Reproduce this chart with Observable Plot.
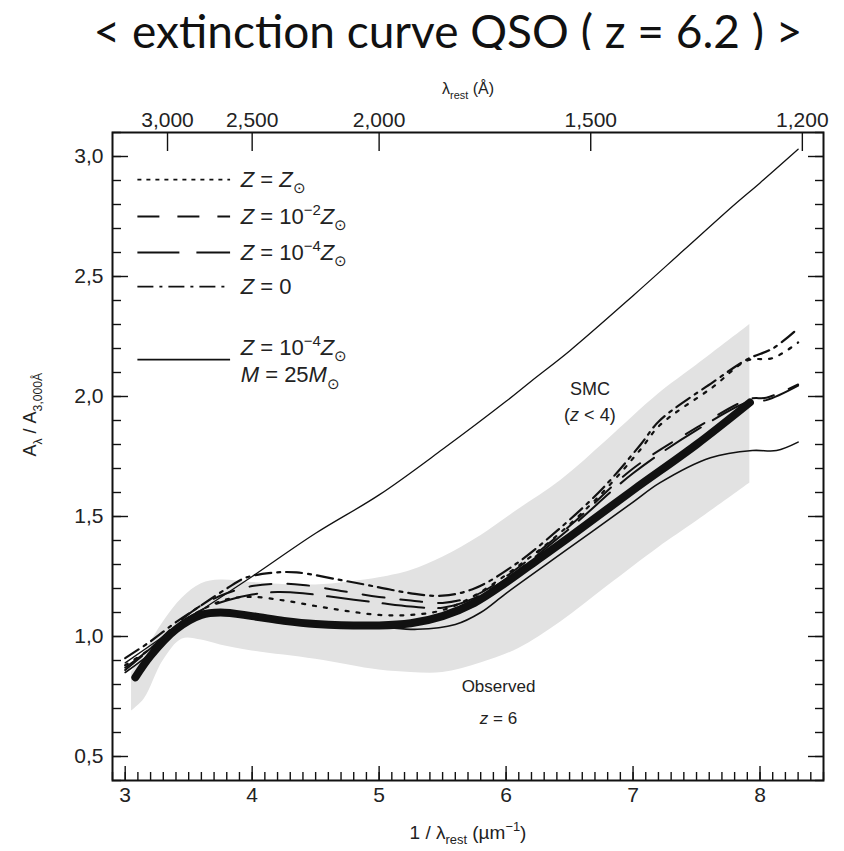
<!DOCTYPE html>
<html>
<head>
<meta charset="utf-8">
<script src="https://cdn.jsdelivr.net/npm/d3@7"></script>
<script src="https://cdn.jsdelivr.net/npm/@observablehq/plot@0.6"></script>
<style>
  html, body { margin: 0; padding: 0; background: #fff; overflow: hidden; }
  #wrap { position: relative; width: 844px; height: 851px; }
  #title { position: absolute; top: 3px; left: 448px; transform: translateX(-50%); white-space: nowrap;
           font-family: Lato, "Open Sans", sans-serif; font-size: 46px; line-height: 56px; color: #111; }
  #chart { position: absolute; top: 50px; left: 0; }
</style>
</head>
<body>
<div id="wrap">
  <div id="title">&lt; extinction curve QSO ( z = 6.2 ) &gt;</div>
  <div id="chart"></div>
</div>
<script>
// ---------- data (x = 1/λ in µm⁻¹, y = Aλ / A3000Å) ----------
const bandX     = [3.05, 3.15, 3.3, 3.45, 3.6, 3.75, 4.0, 4.5, 5.0, 5.25, 5.5, 5.8, 6.1, 6.43, 6.8, 7.2, 7.5, 7.92];
const bandUpper = [0.85, 0.93, 1.06, 1.16, 1.22, 1.235, 1.225, 1.215, 1.245, 1.275, 1.33, 1.42, 1.53, 1.65, 1.82, 2.01, 2.13, 2.30];
const bandLower = [0.69, 0.74, 0.90, 0.99, 0.985, 0.965, 0.94, 0.905, 0.86, 0.85, 0.85, 0.89, 0.95, 1.06, 1.21, 1.37, 1.48, 1.64];

const obsX = [3.08, 3.2, 3.4, 3.6, 3.75, 4.0, 4.25, 4.5, 5.0, 5.25, 5.5, 5.75, 6.0, 6.25, 6.5, 7.0, 7.5, 7.92];
const obsY = [0.83, 0.92, 1.03, 1.09, 1.10, 1.085, 1.065, 1.052, 1.046, 1.055, 1.085, 1.14, 1.225, 1.32, 1.415, 1.61, 1.80, 1.975];

const smcX = [3.0, 3.3, 3.6, 4.0, 4.5, 5.0, 5.5, 6.0, 6.2, 6.5, 7.0, 7.4, 7.8, 8.0, 8.3];
const smcY = [0.89, 1.0, 1.11, 1.25, 1.43, 1.59, 1.78, 1.98, 2.065, 2.19, 2.42, 2.61, 2.8, 2.89, 3.03];

const zSunX = [3.0, 3.2, 3.4, 3.6, 3.8, 4.0, 4.25, 4.5, 4.75, 5.0, 5.25, 5.5, 5.75, 6.06, 6.4, 6.76, 7.06, 7.21, 7.63, 7.9, 8.1, 8.3];
const zSunY = [0.88, 0.95, 1.04, 1.11, 1.155, 1.165, 1.15, 1.127, 1.106, 1.09, 1.09, 1.11, 1.17, 1.28, 1.42, 1.60, 1.78, 1.88, 2.04, 2.15, 2.16, 2.225];

const z2X = [3.0, 3.2, 3.4, 3.6, 3.8, 4.0, 4.2, 4.4, 4.7, 5.0, 5.25, 5.5, 5.75, 6.0, 6.5, 7.0, 7.5, 7.92, 8.05, 8.3];
const z2Y = [0.86, 0.95, 1.05, 1.13, 1.18, 1.21, 1.22, 1.215, 1.19, 1.165, 1.15, 1.14, 1.17, 1.25, 1.46, 1.70, 1.87, 1.99, 1.995, 2.05];

const z4X = [3.0, 3.2, 3.4, 3.6, 3.8, 4.0, 4.2, 4.4, 4.7, 5.0, 5.25, 5.5, 5.75, 6.0, 6.5, 7.0, 7.5, 7.92, 8.05, 8.3];
const z4Y = [0.87, 0.95, 1.04, 1.11, 1.15, 1.175, 1.185, 1.18, 1.16, 1.14, 1.125, 1.12, 1.16, 1.24, 1.45, 1.68, 1.86, 1.98, 1.985, 2.045];

const z0X = [3.0, 3.2, 3.4, 3.6, 3.8, 3.95, 4.15, 4.35, 4.7, 5.0, 5.25, 5.5, 5.75, 6.06, 6.4, 6.76, 7.06, 7.21, 7.63, 7.9, 8.1, 8.27];
const z0Y = [0.91, 0.98, 1.06, 1.13, 1.20, 1.245, 1.265, 1.267, 1.235, 1.205, 1.18, 1.17, 1.20, 1.296, 1.44, 1.617, 1.80, 1.90, 2.06, 2.155, 2.20, 2.27];

const m25X = [3.0, 3.2, 3.4, 3.6, 3.8, 4.0, 4.5, 5.0, 5.3, 5.6, 5.8, 6.0, 6.5, 7.0, 7.21, 7.61, 7.94, 8.13, 8.3];
const m25Y = [0.85, 0.93, 1.03, 1.085, 1.095, 1.08, 1.05, 1.04, 1.03, 1.05, 1.10, 1.18, 1.37, 1.56, 1.64, 1.745, 1.775, 1.775, 1.81];

// ticks & labels
const xTickValues = [3, 4, 5, 6, 7, 8];
const xTickLabels = ["3", "4", "5", "6", "7", "8"];
const xMinorValues = d3.range(29, 86).map(d => d / 10);
const yTickValues = [0.5, 1.0, 1.5, 2.0, 2.5, 3.0];
const yTickLabels = ["0,5", "1,0", "1,5", "2,0", "2,5", "3,0"];
const yMinorValues = d3.range(4, 32).map(d => d / 10);
const topLambda = [3000, 2500, 2000, 1500, 1200];       // Å
const topTickLabels = ["3,000", "2,500", "2,000", "1,500", "1,200"];

// legend (label markup: *italic*, _{sub}, ^{sup})
const legendNames = ["*Z* = *Z*_{⊙}", "*Z* = 10^{−2}*Z*_{⊙}", "*Z* = 10^{−4}*Z*_{⊙}", "*Z* = 0", "*Z* = 10^{−4}*Z*_{⊙}"];
const legendY = [2.904, 2.75, 2.60, 2.458, 2.154];
const legendTextY = [2.904, 2.75, 2.60, 2.458, 2.204];
const legendExtra = "*M* = 25*M*_{⊙}";
const legendExtraY = 2.09;
const legendX1 = 3.10, legendX2 = 3.83, legendTextX = 3.91;

// ---------- build ----------
const pts = (X, Y) => X.map((x, i) => ({x, y: Y[i]}));
const band = bandX.map((x, i) => ({x, lo: bandLower[i], hi: bandUpper[i]}));

const ink = "#111";
const models = [
  {data: pts(zSunX, zSunY), dash: "3,8", legDash: "4,5", width: 2.2},
  {data: pts(z2X, z2Y), dash: "22,16", legDash: "22,18", width: 2},
  {data: pts(z4X, z4Y), dash: "42,14", legDash: "42,17", width: 2},
  {data: pts(z0X, z0Y), dash: "16,6,3,6", legDash: "16,6,3,6", width: 2.2},
  {data: pts(m25X, m25Y), dash: null, legDash: null, width: 1.6}
];

const marks = [
  Plot.areaY(band, {x: "x", y1: "lo", y2: "hi", fill: "#e2e2e2", curve: "catmull-rom"}),
  Plot.line(pts(smcX, smcY), {x: "x", y: "y", stroke: ink, strokeWidth: 1.3, curve: "catmull-rom"}),
  Plot.line(pts(obsX, obsY), {x: "x", y: "y", stroke: ink, strokeWidth: 8, curve: "catmull-rom"})
];
models.forEach((m, i) => {
  marks.push(Plot.line(m.data, {x: "x", y: "y", stroke: ink, strokeWidth: m.width,
    strokeDasharray: m.dash || undefined, curve: "catmull-rom"}));
  marks.push(Plot.ruleY([legendY[i]], {y: d => d, x1: legendX1, x2: legendX2, stroke: ink,
    strokeWidth: 1.8, strokeDasharray: m.legDash || undefined}));
});
marks.push(
  Plot.text(legendNames, {x: legendTextX, y: (d, i) => legendTextY[i], text: d => d, textAnchor: "start", fontSize: 22, fill: "#222"}),
  Plot.text([legendExtra], {x: legendTextX, y: legendExtraY, text: d => d, textAnchor: "start", fontSize: 22, fill: "#222"}),
  Plot.text(["SMC", "(*z* < 4)"], {x: 6.66, y: (d, i) => [2.03, 1.92][i], text: d => d, fontSize: 18, fill: "#222"}),
  Plot.text(["Observed", "*z* = 6"], {x: 5.94, y: (d, i) => [0.79, 0.66][i], text: d => d, fontSize: 17, fill: "#222"}),
  Plot.frame({stroke: ink, strokeWidth: 2}),
  // inward ticks
  Plot.axisY({ticks: yTickValues, anchor: "left", tickSize: -16, tickFormat: () => "", label: null, strokeWidth: 1.4}),
  Plot.axisY({ticks: yMinorValues, anchor: "left", tickSize: -9, tickFormat: () => "", label: null, strokeWidth: 1.4}),
  Plot.axisY({ticks: yTickValues, anchor: "right", tickSize: -16, tickFormat: () => "", label: null, strokeWidth: 1.4}),
  Plot.axisY({ticks: yMinorValues, anchor: "right", tickSize: -9, tickFormat: () => "", label: null, strokeWidth: 1.4}),
  Plot.axisX({ticks: xTickValues, anchor: "bottom", tickSize: -14, tickFormat: () => "", label: null, strokeWidth: 1.4}),
  Plot.axisX({ticks: xMinorValues, anchor: "bottom", tickSize: -8, tickFormat: () => "", label: null, strokeWidth: 1.4}),
  Plot.axisX({ticks: topLambda.map(l => 1e4 / l), anchor: "top", tickSize: -18, tickFormat: () => "", label: null, strokeWidth: 1.4}),
  // tick labels
  Plot.text(yTickValues, {y: d => d, text: (d, i) => yTickLabels[i], frameAnchor: "left", dx: -9, textAnchor: "end", fontSize: 21, fill: "#222"}),
  Plot.text(xTickValues, {x: d => d, text: (d, i) => xTickLabels[i], frameAnchor: "bottom", dy: 21, fontSize: 21, fill: "#222"}),
  Plot.text(topLambda, {x: l => 1e4 / l, text: (d, i) => topTickLabels[i], frameAnchor: "top", dy: -20, fontSize: 21, fill: "#222"}),
  // axis titles
  Plot.text(["λ_{rest} (Å)"], {frameAnchor: "top", dy: -50, text: d => d, fontSize: 16, fill: "#222"}),
  Plot.text(["1 / λ_{rest} (µm^{−1})"], {frameAnchor: "bottom", dy: 58, text: d => d, fontSize: 19, fill: "#222"}),
  Plot.text(["A_{λ} / A_{3,000Å}"], {frameAnchor: "left", dx: -82, rotate: -90, text: d => d, fontSize: 18, fill: "#222"})
);

const svg = Plot.plot({
  width: 844, height: 801,
  marginTop: 82, marginBottom: 71, marginLeft: 112, marginRight: 21,
  x: {domain: [2.9, 8.5]},
  y: {domain: [0.4, 3.1]},
  style: {fontFamily: "'Liberation Sans', Arial, sans-serif", fontSize: "17px", color: ink, background: "white", overflow: "visible"},
  marks
});
document.getElementById("chart").appendChild(svg);

// ---------- rich text: *italic*, _{sub}, ^{sup} ----------
function parse(str) {
  const segs = []; let it = false, buf = "", i = 0;
  const flush = () => { if (buf) segs.push({t: buf, mode: "n", it}); buf = ""; };
  while (i < str.length) {
    const c = str[i];
    if (c === "*") { flush(); it = !it; i++; }
    else if ((c === "_" || c === "^") && str[i + 1] === "{") {
      flush(); const j = str.indexOf("}", i);
      segs.push({t: str.slice(i + 2, j), mode: c === "_" ? "sub" : "sup", it}); i = j + 1;
    } else { buf += c; i++; }
  }
  flush(); return segs;
}
const NS = "http://www.w3.org/2000/svg";
svg.querySelectorAll("text").forEach(el => {
  const s = el.textContent;
  if (!(s.includes("*") || s.includes("_{") || s.includes("^{"))) return;
  const fs = parseFloat(getComputedStyle(el).fontSize) || 17;
  el.textContent = "";
  let cur = 0;
  parse(s).forEach(seg => {
    const ts = document.createElementNS(NS, "tspan");
    ts.textContent = seg.t;
    if (seg.it) ts.setAttribute("font-style", "italic");
    const target = seg.mode === "sub" ? 0.3 * fs : seg.mode === "sup" ? -0.4 * fs : 0;
    if (seg.mode !== "n") ts.setAttribute("font-size", (0.68 * fs).toFixed(1));
    if (target !== cur) { ts.setAttribute("dy", (target - cur).toFixed(2)); cur = target; }
    el.appendChild(ts);
  });
});
</script>
</body>
</html>
